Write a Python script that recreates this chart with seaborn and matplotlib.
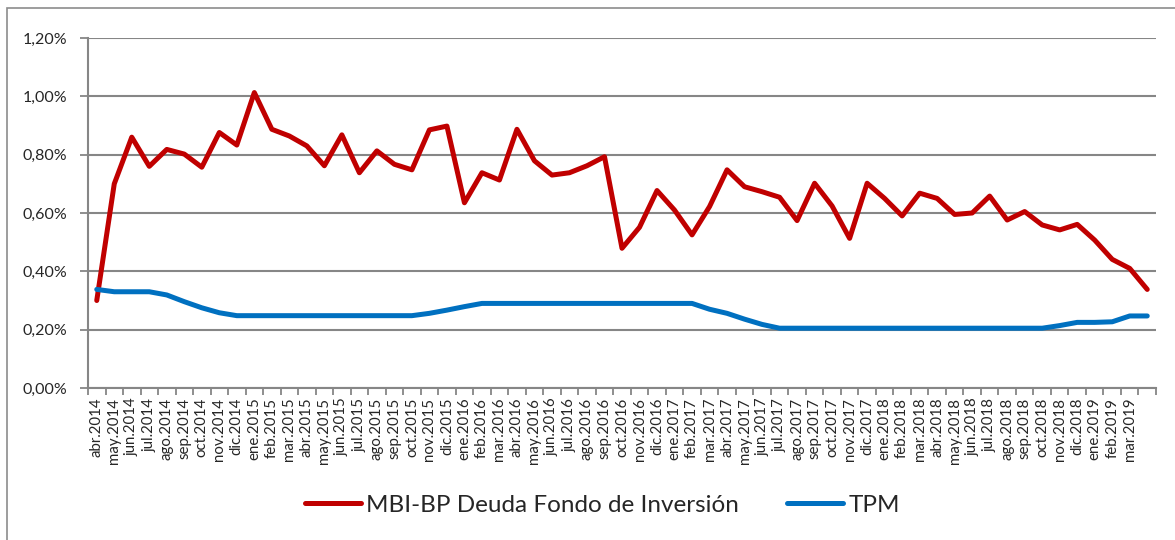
import numpy as np
import pandas as pd
import matplotlib
matplotlib.use("Agg")
import matplotlib.pyplot as plt
import seaborn as sns
from matplotlib.patches import Rectangle
from matplotlib.ticker import FuncFormatter, FixedLocator

# etiquetas mensuales (la última categoría no tiene etiqueta en el original)
meses = ["ene", "feb", "mar", "abr", "may", "jun", "jul", "ago", "sep", "oct", "nov", "dic"]
etiquetas = []
for k in range(61):
    m = (3 + k) % 12
    a = 2014 + (3 + k) // 12
    etiquetas.append(f"{meses[m]}.{a}")
etiquetas[-1] = ""

mbi = [0.30, 0.70, 0.86, 0.76, 0.818, 0.802, 0.757, 0.876, 0.833, 1.013,
       0.887, 0.864, 0.830, 0.762, 0.868, 0.738, 0.813, 0.767, 0.748, 0.885,
       0.898, 0.635, 0.738, 0.713, 0.887, 0.779, 0.730, 0.738, 0.762, 0.793,
       0.479, 0.551, 0.677, 0.610, 0.525, 0.622, 0.748, 0.690, 0.673, 0.654,
       0.574, 0.702, 0.624, 0.513, 0.702, 0.650, 0.590, 0.668, 0.650, 0.595,
       0.600, 0.658, 0.576, 0.605, 0.559, 0.542, 0.561, 0.507, 0.441, 0.410,
       0.338]

tpm = [0.338, 0.330, 0.330, 0.330, 0.319, 0.296, 0.275, 0.258, 0.248, 0.248,
       0.248, 0.248, 0.248, 0.248, 0.248, 0.248, 0.248, 0.248, 0.248, 0.256,
       0.267, 0.279, 0.290, 0.290, 0.290, 0.290, 0.290, 0.290, 0.290, 0.290,
       0.290, 0.290, 0.290, 0.290, 0.290, 0.270, 0.256, 0.236, 0.218, 0.205,
       0.205, 0.205, 0.205, 0.205, 0.205, 0.205, 0.205, 0.205, 0.205, 0.205,
       0.205, 0.205, 0.205, 0.205, 0.205, 0.214, 0.225, 0.225, 0.227, 0.247,
       0.247]

serie1 = "MBI-BP Deuda Fondo de Inversión"
serie2 = "TPM"

sns.set_theme(style="white")
plt.rcParams['font.family'] = ['Lato', 'DejaVu Sans']

df = pd.DataFrame({"idx": np.arange(len(mbi)), serie1: mbi, serie2: tpm})

gris = "#868686"

fig = plt.figure(figsize=(11.75, 5.40), dpi=100)
# marco del área del gráfico (solo se ven los bordes izquierdo y superior)
fig.patches.append(Rectangle((7 / 1175, -0.05), 1.2, 1 - 8 / 540 + 0.05,
                             transform=fig.transFigure, fill=False,
                             edgecolor="#8c8c8c", linewidth=1.2))
ax = fig.add_axes([88 / 1175, 1 - 388 / 540, 1068 / 1175, 350 / 540])

sns.lineplot(data=df, x="idx", y=serie1, ax=ax, color="#C00000", linewidth=3.6,
             label=serie1)
sns.lineplot(data=df, x="idx", y=serie2, ax=ax, color="#0070C0", linewidth=3.6,
             label=serie2)

ax.set_xlim(-0.5, len(mbi) - 0.5)
ax.set_ylim(0, 1.2)
ax.set_yticks(np.arange(0, 1.21, 0.2))
ax.yaxis.set_major_formatter(FuncFormatter(lambda v, p: f"{v:.2f}%".replace(".", ",")))
ax.yaxis.grid(True, color=gris, linewidth=1.5)
ax.set_axisbelow(True)

ax.set_xticks(np.arange(len(mbi)))
ax.set_xticklabels(etiquetas, rotation=90, fontsize=10.8, va="top", ha="center")
ax.xaxis.set_minor_locator(FixedLocator(np.arange(-0.5, len(mbi), 1)))
ax.tick_params(axis="x", which="major", length=0, pad=7)
ax.tick_params(axis="x", which="minor", length=5, color=gris, width=1.3, bottom=True)
ax.tick_params(axis="y", length=6, color=gris, width=1.3, left=True, labelsize=11.5,
               pad=9)

for s in ["top", "right"]:
    ax.spines[s].set_visible(False)
for s in ["left", "bottom"]:
    ax.spines[s].set_color(gris)
    ax.spines[s].set_linewidth(1.5)

ax.set_xlabel("")
ax.set_ylabel("")
ax.get_legend().remove()
handles, labels = ax.get_legend_handles_labels()
fig.legend(handles, labels, loc="center", bbox_to_anchor=(0.5 + 15 / 1175, 1 - 505 / 540),
           ncol=2, frameon=False, fontsize=17.5, handlelength=2.3, columnspacing=2.0,
           handletextpad=0.2)

fig.savefig("out.png", dpi=100, facecolor="white")
